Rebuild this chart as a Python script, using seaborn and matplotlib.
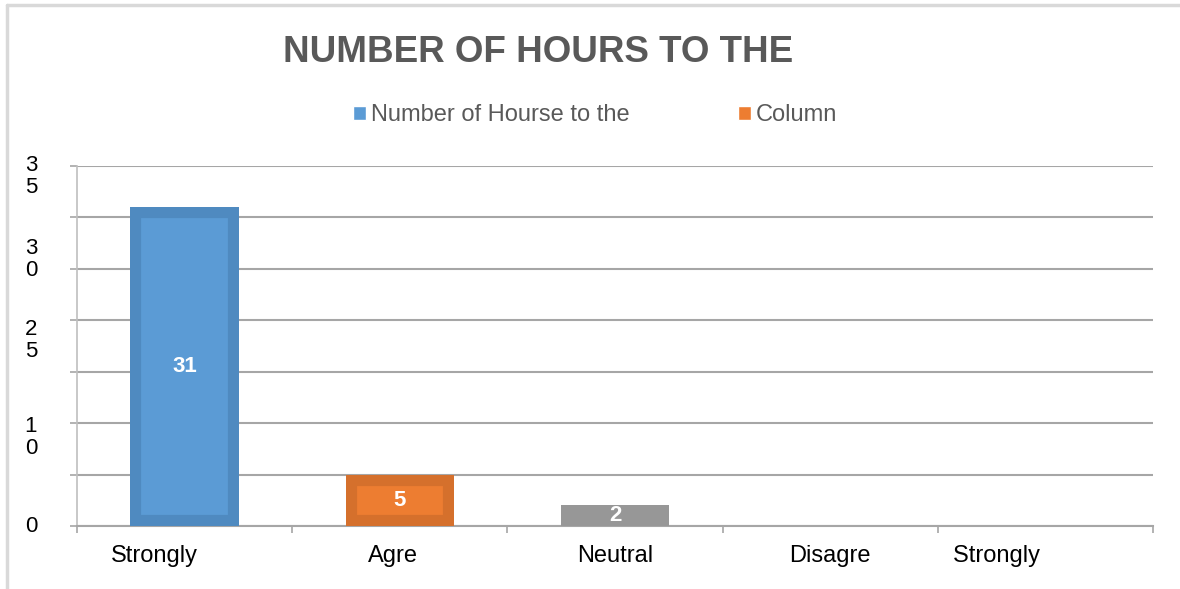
import numpy as np
import pandas as pd
import matplotlib
matplotlib.use("Agg")
import matplotlib.pyplot as plt
import matplotlib.transforms as mtransforms
from matplotlib.patches import Patch
from matplotlib.lines import Line2D
import seaborn as sns

# data
categories = ["Strongly", "Agre", "Neutral", "Disagre", "Strongly "]
values = [31, 5, 2, 0, 0]
bar_colors = ["#5b9bd5", "#ed7d31", "#a5a5a5", "#ffc000", "#4472c4"]
edge_colors = ["#4f8ac0", "#d5702c", "#979797", "#e6ad00", "#3d66b0"]
legend_labels = ["Number of Hourse to the", "Column"]
ytick_text = ["3\n5", "3\n0", "2\n5", "1\n0", "0"]
ytick_pos = [34.0, 25.9, 18.0, 8.6, 0]
xlabel_shift = [-30, -7, 0, 0, -46]  # px

sns.set_theme(style="white")
plt.rcParams['font.family'] = ['Liberation Sans', 'DejaVu Sans']

df = pd.DataFrame({"cat": categories, "val": values})

fig = plt.figure(figsize=(11.8, 5.89), dpi=100)
ax = fig.add_axes([77 / 1180, 63 / 589, 1076 / 1180, 360 / 589])

sns.barplot(data=df, x="cat", y="val", hue="cat", palette=bar_colors,
            legend=False, width=0.503, ax=ax, saturation=1)

for p, ec in zip(ax.patches, edge_colors):
    p.set_edgecolor(ec)
    p.set_linewidth(16)
    p.set_clip_path(p)
    p.set_zorder(3)

ax.set_ylim(0, 35)
ax.set_xlim(-0.5, len(categories) - 0.5)
ax.set_yticks(np.arange(0, 36, 5))
ax.set_yticklabels([])
ax.yaxis.grid(True, color="#a6a6a6", linewidth=1.5)
ax.set_axisbelow(True)
ax.set_xlabel("")
ax.set_ylabel("")

for s in ["top", "right"]:
    ax.spines[s].set_visible(False)
ax.spines["left"].set_color("#bfbfbf")
ax.spines["left"].set_linewidth(1.2)
ax.spines["bottom"].set_color("#a6a6a6")
ax.spines["bottom"].set_linewidth(1.5)

ax.tick_params(axis="y", which="major", length=5, width=1.2, color="#a6a6a6", left=True)
ax.set_xticks(range(len(categories)))
ax.set_xticklabels(categories, fontsize=17, color="black")
ax.tick_params(axis="x", which="major", length=0, pad=14)
ax.set_xticks(np.arange(-0.5, len(categories), 1), minor=True)
ax.tick_params(axis="x", which="minor", length=5, width=1.2, color="#a6a6a6", bottom=True)

for lab, dx in zip(ax.get_xticklabels(), xlabel_shift):
    lab.set_transform(lab.get_transform() + mtransforms.ScaledTranslation(dx / 100, 0, fig.dpi_scale_trans))

ytrans = mtransforms.blended_transform_factory(fig.transFigure, ax.transData)
for txt, pos in zip(ytick_text, ytick_pos):
    ax.text(31 / 1180, pos, txt, transform=ytrans, ha="center", va="center",
            fontsize=16, color="black", linespacing=1.05, clip_on=False)

# value labels
for p, v in zip(ax.patches, values):
    if v > 0:
        ax.text(p.get_x() + p.get_width() / 2, v / 2, str(v), ha="center", va="center",
                color="white", fontsize=16, fontweight="bold", zorder=5)

fig.text(538 / 1180, 1 - 52 / 589, "NUMBER OF HOURS TO THE", ha="center", va="center",
         fontsize=26.5, fontweight="bold", color="#595959")

handles = [Patch(facecolor=bar_colors[0]), Patch(facecolor=bar_colors[1])]
fig.legend(handles, legend_labels, loc="center", bbox_to_anchor=(595 / 1180, 1 - 115 / 589),
           ncol=2, frameon=False, fontsize=17, labelcolor="#595959",
           handlelength=0.55, handleheight=0.55, handletextpad=0.2, columnspacing=4.6)

fig.add_artist(Line2D([7 / 1180, 1], [1 - 5 / 589, 1 - 5 / 589], color="#d9d9d9", linewidth=2.5,
                      transform=fig.transFigure))
fig.add_artist(Line2D([7 / 1180, 7 / 1180], [0, 1 - 5 / 589], color="#d9d9d9", linewidth=2.5,
                      transform=fig.transFigure))

fig.savefig("out.png", dpi=100, facecolor="white")
